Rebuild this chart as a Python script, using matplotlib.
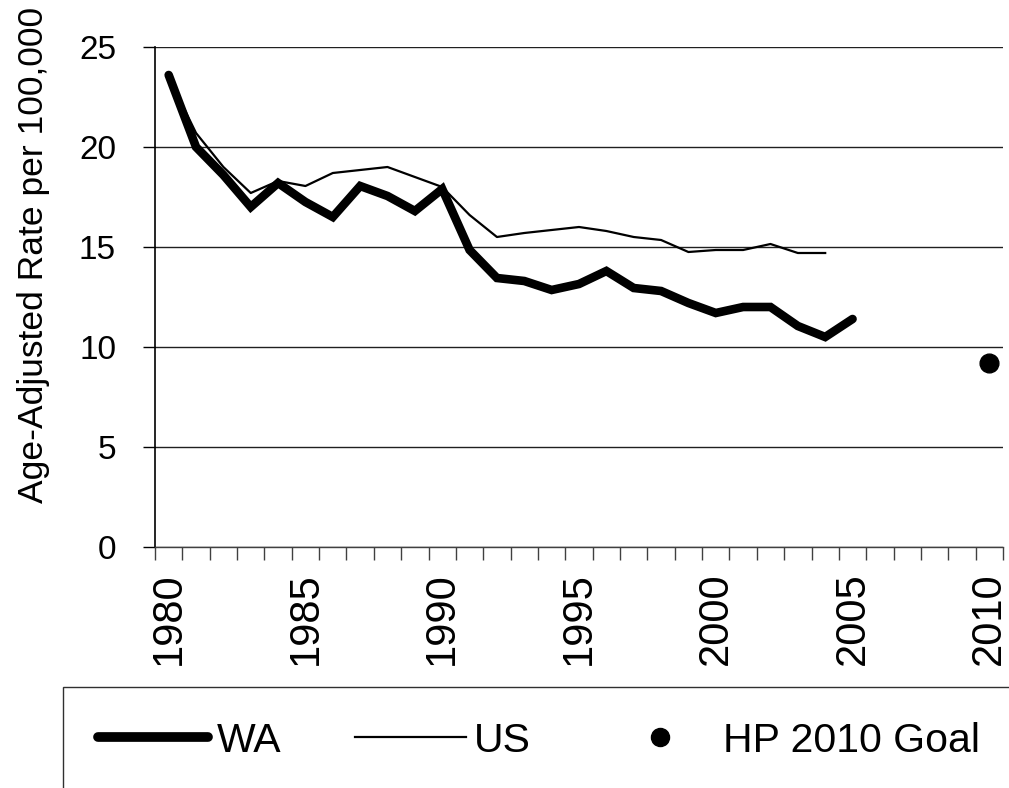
import matplotlib
matplotlib.use("Agg")
import matplotlib.pyplot as plt
import numpy as np

plt.rcParams['font.family'] = ['Liberation Sans', 'DejaVu Sans']

# years on the category axis
years = list(range(1980, 2011))
year_labels = ['1980', '1985', '1990', '1995', '2000', '2005', '2010']

# rates per 100,000
wa_rate = [23.6, 20.0, 18.6, 17.0, 18.2, 17.25, 16.5, 18.05, 17.55, 16.8,
           17.9, 14.85, 13.45, 13.3, 12.85, 13.15, 13.8, 12.95, 12.8, 12.2,
           11.7, 12.0, 12.0, 11.05, 10.5, 11.4]
us_rate = [23.5, 20.7, 19.0, 17.7, 18.3, 18.05, 18.7, 18.85, 19.0, 18.5,
           18.0, 16.6, 15.5, 15.7, 15.85, 16.0, 15.8, 15.5, 15.35, 14.75,
           14.85, 14.85, 15.15, 14.7, 14.7]
goal_year = 2010
goal_rate = 9.2

fig = plt.figure(figsize=(10.09, 7.88), dpi=100)
ax = fig.add_axes([155/1009, 241/788, 848/1009, 500/788])

x_wa = [years.index(y) for y in years[:len(wa_rate)]]
x_us = [years.index(y) for y in years[:len(us_rate)]]

ax.plot(x_us, us_rate, color='black', linewidth=1.6, zorder=3)
ax.plot(x_wa, wa_rate, color='black', linewidth=6.2, solid_capstyle='round',
        solid_joinstyle='miter', zorder=4)
ax.plot([years.index(goal_year)], [goal_rate], 'o', color='black',
        markersize=13.5, zorder=5)

ax.set_xlim(-0.5, len(years) - 0.5)
ax.set_ylim(0, 25)

# y axis
ax.set_yticks([0, 5, 10, 15, 20, 25])
ax.tick_params(axis='y', direction='out', length=9, width=1, pad=19,
               labelsize=24)
ax.grid(axis='y', color='#202020', linewidth=1)
ax.set_axisbelow(True)

# x axis: marks between categories, labels every 5 years
ax.set_xticks(np.arange(-0.5, len(years), 1.0))
ax.set_xticklabels([])
ax.set_xticks([years.index(int(s)) for s in year_labels], minor=True)
ax.set_xticklabels(year_labels, minor=True, rotation=90)
ax.tick_params(axis='x', which='major', direction='out', length=9,
               width=1, color='#404040')
ax.tick_params(axis='x', which='minor', length=0, pad=18, labelsize=30)

for s in ['top', 'right']:
    ax.spines[s].set_visible(False)
ax.spines['left'].set_linewidth(1.2)
ax.spines['bottom'].set_linewidth(1)
ax.spines['bottom'].set_color('#404040')

fig.text(34/1009, 1 - 255/788, 'Age-Adjusted Rate per 100,000',
         rotation=90, ha='center', va='center', fontsize=25.5)

h_wa, = ax.plot([], [], color='black', linewidth=7, solid_capstyle='round')
h_us, = ax.plot([], [], color='black', linewidth=1.6)
h_goal, = ax.plot([], [], 'o', color='black', markersize=13)
leg = fig.legend([h_wa, h_us, h_goal], ['WA', 'US', 'HP 2010 Goal'],
                 loc='upper left', bbox_to_anchor=(63/1009, 1 - 687/788),
                 ncol=3, fontsize=29.5, frameon=True, fancybox=False,
                 edgecolor='#303030', framealpha=1, handlelength=2.7,
                 handletextpad=0.2, columnspacing=1.8, borderpad=0.85,
                 borderaxespad=0)
leg.get_frame().set_linewidth(1)

fig.savefig('out.png', dpi=100)
